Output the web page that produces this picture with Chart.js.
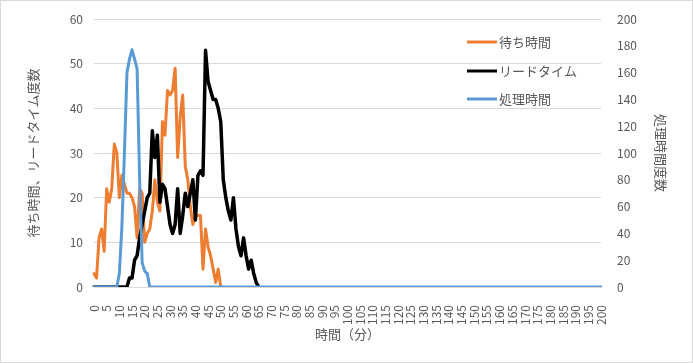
<!DOCTYPE html>
<html lang="ja">
<head>
    <meta charset="UTF-8">
    <title>待ち時間・リードタイム・処理時間</title>
    <script src="https://cdn.jsdelivr.net/npm/chart.js"></script>
    <style>
        body {
            margin: 0;
            background: #fff;
        }
        .container {
            position: relative;
            width: 693px;
            height: 363px;
        }
    </style>
</head>
<body>
    <div class="container">
        <canvas id="timeChart"></canvas>
    </div>
    <script>
        // x categories: minutes 0..200, only every 5th is labelled
        const minutes = [];
        for (let m = 0; m <= 200; m++) minutes.push(m);

        // 待ち時間 (left axis), minutes 0..50
        const waitTime = [
            3, 2, 11, 13, 8, 22, 19, 22, 32, 30,
            20, 25, 23, 21, 21, 20, 18, 11, 22, 21,
            10, 12, 13, 17, 24, 19, 17, 37, 34, 44,
            43, 44, 49, 29, 38, 43, 27, 24, 18, 14,
            16, 16, 16, 4, 13, 9, 7, 4, 1, 4,
            0
        ];

        // リードタイム (left axis), minutes 0..65
        const leadTime = [
            0, 0, 0, 0, 0, 0, 0, 0, 0, 0,
            0, 0, 0, 0, 2, 2, 6, 7, 11, 14,
            17, 20, 21, 35, 29, 34, 19, 23, 22, 18,
            14, 12, 14, 22, 12, 16, 21, 18, 21, 24,
            15, 25, 26, 25, 53, 46, 44, 42, 42, 40,
            37, 24, 20, 17, 15, 20, 13, 9, 7, 11,
            7, 4, 6, 3, 1, 0
        ];

        // 処理時間 (right axis), minutes 0..200
        const processTime = [
            0, 0, 0, 0, 0, 0, 0, 0, 0, 0,
            10, 45, 100, 160, 170, 177, 170, 163, 80, 18,
            12, 10, 0, 0, 0, 0, 0, 0, 0, 0,
            0, 0, 0, 0, 0, 0, 0, 0, 0, 0,
            0, 0, 0, 0, 0, 0, 0, 0, 0, 0,
            0, 0, 0, 0, 0, 0, 0, 0, 0, 0,
            0, 0, 0, 0, 0, 0, 0, 0, 0, 0,
            0, 0, 0, 0, 0, 0, 0, 0, 0, 0,
            0, 0, 0, 0, 0, 0, 0, 0, 0, 0,
            0, 0, 0, 0, 0, 0, 0, 0, 0, 0,
            0, 0, 0, 0, 0, 0, 0, 0, 0, 0,
            0, 0, 0, 0, 0, 0, 0, 0, 0, 0,
            0, 0, 0, 0, 0, 0, 0, 0, 0, 0,
            0, 0, 0, 0, 0, 0, 0, 0, 0, 0,
            0, 0, 0, 0, 0, 0, 0, 0, 0, 0,
            0, 0, 0, 0, 0, 0, 0, 0, 0, 0,
            0, 0, 0, 0, 0, 0, 0, 0, 0, 0,
            0, 0, 0, 0, 0, 0, 0, 0, 0, 0,
            0, 0, 0, 0, 0, 0, 0, 0, 0, 0,
            0, 0, 0, 0, 0, 0, 0, 0, 0, 0,
            0
        ];

        const textColor = '#595959';
        const gridColor = '#d9d9d9';
        const jpFont = '"Noto Sans CJK JP", "Noto Sans", sans-serif';

        Chart.defaults.font.family = jpFont;
        Chart.defaults.color = textColor;

        // legend sits inside the plot area on the right, like the original
        const insideLegend = {
            id: 'insideLegend',
            afterDatasetsDraw(chart) {
                const ctx = chart.ctx;
                const rows = [42, 71, 99];
                ctx.save();
                ctx.font = '13px ' + jpFont;
                ctx.textBaseline = 'middle';
                chart.data.datasets.forEach((ds, i) => {
                    const y = rows[i];
                    ctx.strokeStyle = ds.borderColor;
                    ctx.lineWidth = 3;
                    ctx.beginPath();
                    ctx.moveTo(467, y);
                    ctx.lineTo(497, y);
                    ctx.stroke();
                    ctx.fillStyle = textColor;
                    ctx.fillText(ds.label, 499, y);
                });
                ctx.restore();
            }
        };

        const frame = {
            id: 'frame',
            beforeDraw(chart) {
                const ctx = chart.ctx;
                ctx.save();
                ctx.fillStyle = '#fff';
                ctx.fillRect(0, 0, chart.width, chart.height);
                ctx.strokeStyle = gridColor;
                ctx.lineWidth = 1;
                ctx.strokeRect(0.5, 0.5, chart.width - 1, chart.height - 1);
                ctx.restore();
            }
        };

        const ctx = document.getElementById('timeChart').getContext('2d');
        new Chart(ctx, {
            type: 'line',
            data: {
                labels: minutes,
                datasets: [
                    {
                        label: '待ち時間',
                        data: waitTime,
                        borderColor: '#ED7D31',
                        borderWidth: 3,
                        yAxisID: 'y',
                        order: 3
                    },
                    {
                        label: 'リードタイム',
                        data: leadTime,
                        borderColor: '#000000',
                        borderWidth: 3.5,
                        yAxisID: 'y',
                        order: 2
                    },
                    {
                        label: '処理時間',
                        data: processTime,
                        borderColor: '#5B9BD5',
                        borderWidth: 3,
                        yAxisID: 'y1',
                        order: 1
                    }
                ]
            },
            options: {
                responsive: true,
                maintainAspectRatio: false,
                animation: false,
                layout: {
                    padding: { top: 19, left: 0, right: 0, bottom: 0 }
                },
                elements: {
                    point: { radius: 0 },
                    line: { tension: 0, borderJoinStyle: 'round', borderCapStyle: 'round' }
                },
                plugins: {
                    legend: { display: false },
                    tooltip: { enabled: false }
                },
                scales: {
                    x: {
                        type: 'category',
                        offset: false,
                        afterFit(scale) { scale.height = 76; },
                        grid: { display: false },
                        border: { display: true, color: gridColor },
                        ticks: {
                            autoSkip: false,
                            minRotation: 90,
                            maxRotation: 90,
                            padding: 10,
                            font: { size: 12 },
                            callback(value, index) {
                                return index % 5 === 0 ? String(minutes[index]) : '';
                            }
                        },
                        title: {
                            display: true,
                            text: '時間（分）',
                            font: { size: 13 },
                            padding: { top: 0, bottom: 21 }
                        }
                    },
                    y: {
                        position: 'left',
                        min: 0,
                        max: 60,
                        afterFit(scale) { scale.width = 94; },
                        grid: { color: gridColor, drawTicks: false },
                        border: { display: false },
                        ticks: { stepSize: 10, padding: 11, font: { size: 12 } },
                        title: {
                            display: true,
                            text: '待ち時間、リードタイム度数',
                            font: { size: 13 },
                            padding: { top: 25, bottom: 0 }
                        }
                    },
                    y1: {
                        position: 'right',
                        min: 0,
                        max: 200,
                        afterFit(scale) { scale.width = 92; },
                        // invisible tick marks push the labels out without adding top padding
                        grid: { display: false, drawTicks: true, tickLength: 13 },
                        border: { display: false },
                        ticks: { stepSize: 20, padding: 3, font: { size: 12 } },
                        title: {
                            display: true,
                            text: '処理時間度数',
                            font: { size: 13 },
                            padding: { top: 24, bottom: 0 }
                        }
                    }
                }
            },
            plugins: [frame, insideLegend]
        });
    </script>
</body>
</html>
